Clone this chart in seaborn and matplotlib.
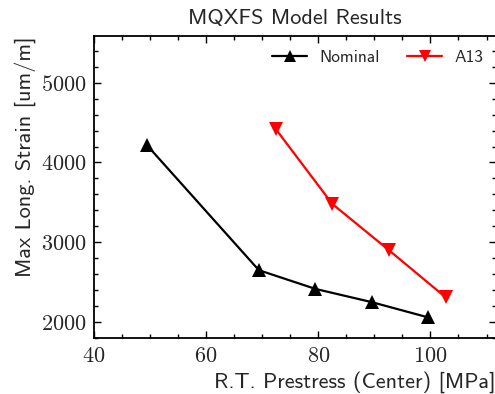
import matplotlib
matplotlib.use("Agg")
import matplotlib.pyplot as plt
import seaborn as sns
import pandas as pd
from matplotlib.ticker import MultipleLocator

# Data
nominal_x = [49.4, 69.4, 79.5, 89.5, 99.5]
nominal_y = [4220, 2650, 2415, 2250, 2060]
a13_x = [72.4, 82.5, 92.6, 102.7]
a13_y = [4420, 3480, 2900, 2310]
series_names = ["Nominal", "A13"]
title = "MQXFS Model Results"
xlabel = "R.T. Prestress (Center) [MPa]"
ylabel = "Max Long. Strain [um/m]"

df = pd.concat([
    pd.DataFrame({"x": nominal_x, "y": nominal_y, "s": series_names[0]}),
    pd.DataFrame({"x": a13_x, "y": a13_y, "s": series_names[1]}),
])

sns.set_style("ticks")
plt.rcParams["font.family"] = ["cmss10", "DejaVu Sans"]
plt.rcParams["axes.formatter.use_mathtext"] = True

fig = plt.figure(figsize=(4.95, 3.94), dpi=100)
ax = fig.add_axes([94 / 495, 1 - 338 / 394, (495.5 - 94) / 495, (338 - 36) / 394])

sns.lineplot(data=df, x="x", y="y", hue="s", style="s",
             palette={"Nominal": "black", "A13": "red"},
             markers={"Nominal": "^", "A13": "v"}, dashes=False,
             markersize=9.5, markeredgewidth=0, linewidth=1.6, ax=ax, sort=False)

ax.set_xlim(40, 111.6)
ax.set_ylim(1800, 5585)
ax.xaxis.set_major_locator(MultipleLocator(20))
ax.xaxis.set_minor_locator(MultipleLocator(5))
ax.yaxis.set_major_locator(MultipleLocator(1000))
ax.yaxis.set_minor_locator(MultipleLocator(200))
ax.tick_params(which="both", direction="in", top=True, right=True,
               labelfontfamily="cmr10", labelsize=16, width=1.0, color="black")
ax.tick_params(which="major", length=5, pad=6)
ax.tick_params(axis="y", which="major", pad=5)
ax.tick_params(which="minor", length=3)
for sp in ax.spines.values():
    sp.set_linewidth(1.3)
    sp.set_color("black")

ax.set_title(title, fontsize=16, pad=9, family=["cmss10", "DejaVu Sans"])
ax.set_xlabel(xlabel, fontsize=16, loc="right", family=["cmss10", "DejaVu Sans"])
ax.set_ylabel(ylabel, fontsize=16, loc="top", family=["cmss10", "DejaVu Sans"])

ax.legend(ncol=2, frameon=False, loc="upper right", bbox_to_anchor=(1.008, 1.006),
          prop={"family": ["cmss10", "DejaVu Sans"], "size": 12.5},
          handlelength=2.0, handletextpad=0.7, columnspacing=1.6, markerscale=0.9)

fig.savefig("out.png", dpi=100)
